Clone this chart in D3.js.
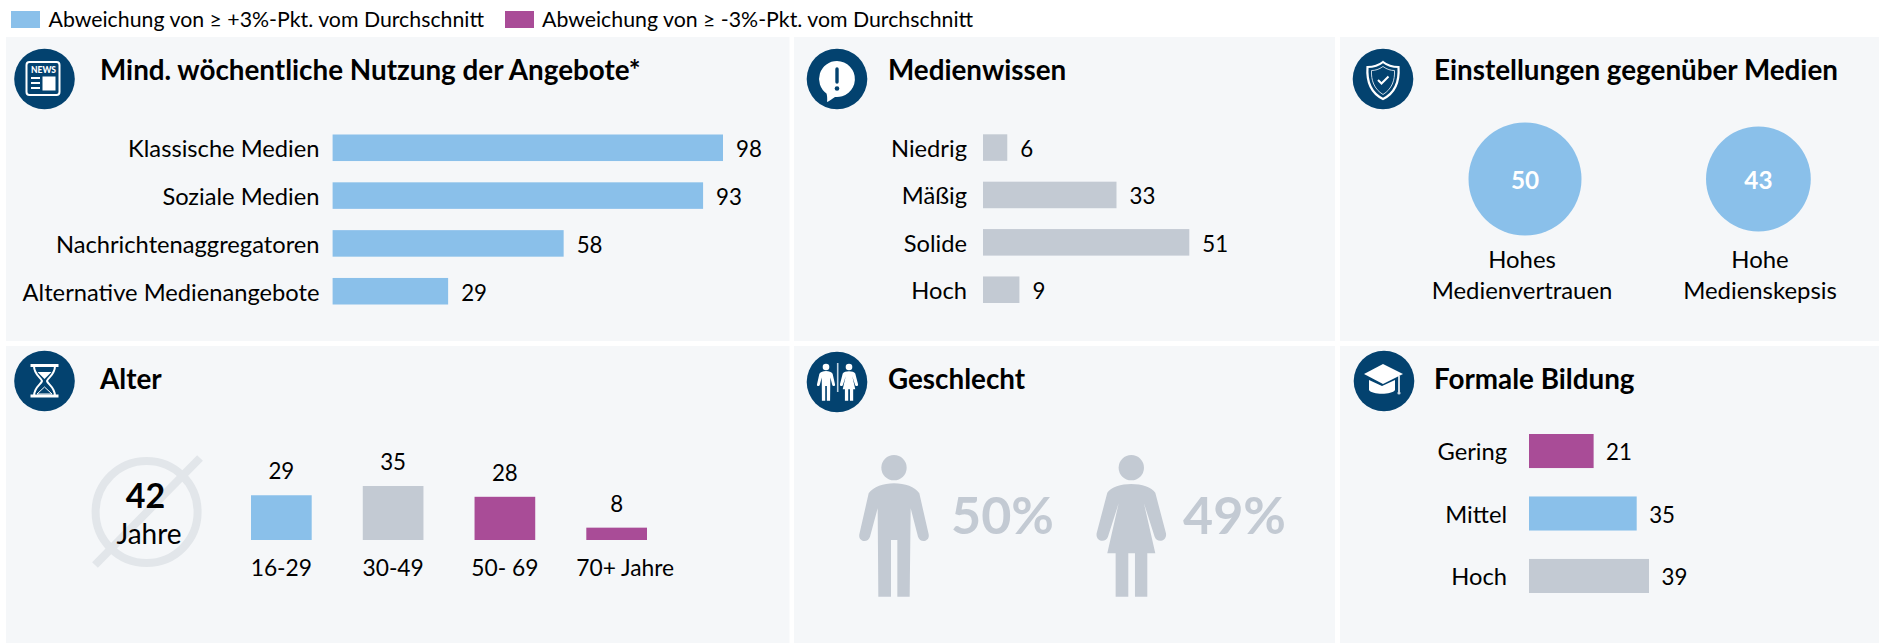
<!DOCTYPE html>
<html><head><meta charset="utf-8">
<script src="https://cdn.jsdelivr.net/npm/d3@7"></script>
<style>html,body{margin:0;padding:0;background:#fff;overflow:hidden}svg{display:block}text{font-family:Lato,"Noto Sans",sans-serif;fill:#000}</style>
</head><body><div id="c"></div>
<script>
const legendLabels=["Abweichung von ≥ +3%-Pkt. vom Durchschnitt","Abweichung von ≥ -3%-Pkt. vom Durchschnitt"];
const titles=["Mind. wöchentliche Nutzung der Angebote*","Medienwissen","Einstellungen gegenüber Medien","Alter","Geschlecht","Formale Bildung"];
const useCats=["Klassische Medien","Soziale Medien","Nachrichtenaggregatoren","Alternative Medienangebote"];
const useVals=[98,93,58,29];
const useKinds=["up","up","up","up"];
const knowCats=["Niedrig","Mäßig","Solide","Hoch"];
const knowVals=[6,33,51,9];
const knowKinds=["none","none","none","none"];
const attCats=[["Hohes","Medienvertrauen"],["Hohe","Medienskepsis"]];
const attVals=[50,43];
const ageCats=["16-29","30-49","50- 69","70+ Jahre"];
const ageVals=[29,35,28,8];
const ageKinds=["up","none","down","down"];
const ageMean=42, ageMeanUnit="Jahre";
const genderVals=["50%","49%"];
const eduCats=["Gering","Mittel","Hoch"];
const eduVals=[21,35,39];
const eduKinds=["down","up","none"];

const COL={up:"#8AC0EA",down:"#A94C97",none:"#C3CAD3"},NAVY="#03426F",PANEL="#F5F7F9";
const W=1879,H=643;
const svg=d3.select("#c").append("svg").attr("width",W).attr("height",H);
svg.append("rect").attr("width",W).attr("height",H).attr("fill","#fff");

// panels
const panelX=[[6,789.5],[794,1335],[1340,1879]],panelY=[[37,341],[346,643]];
panelY.forEach(py=>panelX.forEach(px=>svg.append("rect").attr("x",px[0]).attr("y",py[0])
  .attr("width",px[1]-px[0]).attr("height",py[1]-py[0]).attr("fill",PANEL)));

// legend
[[11,48.5,"up"],[505,542,"down"]].forEach((l,i)=>{
  svg.append("rect").attr("x",l[0]).attr("y",11).attr("width",29).attr("height",17).attr("fill",COL[l[2]]);
  svg.append("text").attr("x",l[1]).attr("y",27).attr("font-size",21.3).text(legendLabels[i]);
});

// titles
const TITLE=27.8;
[[100,79.5],[888,79.5],[1434,79.5],[100,388.5],[888,388.5],[1434,388.5]].forEach((p,i)=>
  svg.append("text").attr("x",p[0]).attr("y",p[1]).attr("font-size",TITLE).attr("font-weight",700).text(titles[i]));

const FS=22.3, FL=23.7;
function hbars(cats,vals,kinds,o){
  const x=d3.scaleLinear().domain([0,o.maxV]).range([o.x0,o.x1]);
  const y=d3.scaleBand().domain(cats).range(o.yr).paddingInner(o.pad).paddingOuter(0);
  const g=svg.append("g");
  g.selectAll("rect").data(cats).join("rect")
    .attr("x",x(0)).attr("y",d=>y(d)).attr("height",y.bandwidth())
    .attr("width",(d,i)=>x(vals[i])-x(0)).attr("fill",(d,i)=>COL[kinds[i]]);
  g.selectAll("text.v").data(cats).join("text").attr("class","v")
    .attr("x",(d,i)=>x(vals[i])+o.gap).attr("y",d=>y(d)+y.bandwidth()/2+o.dy)
    .attr("font-size",FS).text((d,i)=>vals[i]);
  const ax=svg.append("g").attr("transform",`translate(${o.lx},0)`)
    .call(d3.axisLeft(y).tickSize(0).tickPadding(0));
  ax.select(".domain").remove();
  ax.selectAll("text").attr("font-size",FL).attr("dy",null).attr("y",o.dy)
    .style("fill","#000");
  ax.attr("font-family",null).attr("font-size",null);
}
hbars(useCats,useVals,useKinds,{maxV:98,x0:332.6,x1:723,yr:[134.5,304.5],pad:0.445,gap:13,dy:9.3,lx:319.5});
hbars(knowCats,knowVals,knowKinds,{maxV:51,x0:983,x1:1189.3,yr:[134.3,303],pad:0.44,gap:13,dy:9.3,lx:967});
hbars(eduCats,eduVals,eduKinds,{maxV:39,x0:1529,x1:1649,yr:[434,593],pad:0.455,gap:12.5,dy:9.3,lx:1507});

// attitudes: bubbles
const r=d3.scaleSqrt().domain([0,50]).range([0,56.5]);
const bx=d3.scaleOrdinal().domain(attVals).range([1525,1758.4]);
const lx=d3.scaleOrdinal().domain(attVals).range([1522,1760]);
attVals.forEach((v,i)=>{
  svg.append("circle").attr("cx",bx(v)).attr("cy",179).attr("r",r(v)).attr("fill",COL.up);
  svg.append("text").attr("x",bx(v)).attr("y",189).attr("text-anchor","middle").attr("font-size",FS+2)
    .attr("font-weight",700).style("fill","#fff").text(v);
  attCats[i].forEach((t,j)=>svg.append("text").attr("x",lx(v)).attr("y",268+j*31)
    .attr("text-anchor","middle").attr("font-size",FL+0.2).text(t));
});

// age
const ax0=d3.scaleBand().domain(ageCats).range([251,647]).paddingInner(0.457).paddingOuter(0);
const ay=d3.scaleLinear().domain([0,35]).range([540,486]);
ageCats.forEach((c,i)=>{
  svg.append("rect").attr("x",ax0(c)).attr("y",ay(ageVals[i])).attr("width",ax0.bandwidth())
    .attr("height",ay(0)-ay(ageVals[i])).attr("fill",COL[ageKinds[i]]);
  svg.append("text").attr("x",ax0(c)+ax0.bandwidth()/2).attr("y",ay(ageVals[i])-16)
    .attr("text-anchor","middle").attr("font-size",FS).text(ageVals[i]);
});
const agx=svg.append("g").attr("transform","translate(0,576)").call(d3.axisBottom(ax0).tickSize(0).tickPadding(0));
agx.select(".domain").remove();
agx.attr("font-family",null).attr("font-size",null);
agx.selectAll("text").attr("font-size",22.8).attr("dy",null).attr("y",0).style("fill","#000")
  .attr("dx",(d,i)=>i===3?8.5:0);

// mean
const MEAN="#E2E6EA";
svg.append("circle").attr("cx",146.6).attr("cy",512).attr("r",51).attr("fill","none").attr("stroke",MEAN).attr("stroke-width",8);
svg.append("line").attr("x1",95).attr("y1",565).attr("x2",200).attr("y2",458).attr("stroke",MEAN).attr("stroke-width",8);
svg.append("text").attr("x",145.5).attr("y",507.5).attr("text-anchor","middle").attr("font-size",34).attr("font-weight",700).text(ageMean);
svg.append("text").attr("x",149).attr("y",544).attr("text-anchor","middle").attr("font-size",28).text(ageMeanUnit);

// pictograms (drawn in a 3x local space centred on the head axis)
const MAN="M0 47C33 47 63 57 76 77L104 200C108 222 78 227 72 207L50 122L47 387L10 387L10 217L-9 217L-9 387L-47 387L-49 122L-72 207C-78 227-108 222-104 200L-76 77C-62 57-32 47 0 47Z";
const WOMAN="M0 49C31 49 61 59 72 75L104 197C108 222 76 227 70 207L38 107L72 257L48 257L48 387L11 387L11 257L-9 257L-9 387L-47 387L-47 257L-72 257L-38 107L-70 207C-76 227-108 222-104 197L-72 75C-61 59-31 49 0 49Z";
function person(parent,cx,headY,k,path,fill){
  const g=parent.append("g").attr("transform",`translate(${cx},${headY}) scale(${k})`).attr("fill",fill);
  g.append("circle").attr("r",38);
  g.append("path").attr("d",path);
}
person(svg,894,467.7,1/3,MAN,COL.none);
person(svg,1131.3,467.7,1/3,WOMAN,COL.none);
[[951,genderVals[0]],[1183,genderVals[1]]].forEach(p=>svg.append("text").attr("x",p[0]).attr("y",534.3)
  .attr("font-size",52).attr("font-weight",700).style("fill",COL.none).text(p[1]));

// icons
function icon(cx,cy){
  svg.append("circle").attr("cx",cx).attr("cy",cy).attr("r",30.3).attr("fill",NAVY);
  return svg.append("g").attr("transform",`translate(${cx},${cy})`);
}
// news
let g=icon(44.5,79);
g.append("rect").attr("x",-18).attr("y",-17).attr("width",33).attr("height",33).attr("rx",3).attr("fill","none").attr("stroke","#fff").attr("stroke-width",2);
g.append("text").attr("x",-13.5).attr("y",-6).attr("font-size",8.5).attr("font-weight",900).style("fill","#fff").text("NEWS");
[-1,4,9].forEach(y=>g.append("line").attr("x1",-13.5).attr("x2",-4.5).attr("y1",y).attr("y2",y).attr("stroke","#fff").attr("stroke-width",2));
g.append("rect").attr("x",-2).attr("y",-2.5).attr("width",13).attr("height",14).attr("fill","#fff");
// exclamation
g=icon(837,79);
g.append("path").attr("d","M0 -18A18 18 0 1 1 -2 17.9C-5 20 -8 22 -10 23C-9.5 20 -10 16 -10.5 14.6A18 18 0 0 1 0 -18Z").attr("fill","#fff");
g.append("line").attr("x1",0).attr("x2",0).attr("y1",-10).attr("y2",3).attr("stroke",NAVY).attr("stroke-width",3.4).attr("stroke-linecap","round");
g.append("circle").attr("cy",9.5).attr("r",2.3).attr("fill",NAVY);
// shield
g=icon(1383,79);
g.append("path").attr("d","M0 -17C5 -13 11 -12 15.5 -12C16.5 2 12 14 0 20C-12 14 -16.5 2 -15.5 -12C-11 -12 -5 -13 0 -17Z").attr("fill","none").attr("stroke","#fff").attr("stroke-width",2.2);
g.append("path").attr("d","M0 -12.5C4 -9.5 8 -8.5 11.5 -8.5C12 1 9 10 0 15.5C-9 10 -12 1 -11.5 -8.5C-8 -8.5 -4 -9.5 0 -12.5Z").attr("fill","none").attr("stroke","#C9D8E4").attr("stroke-width",1);
g.append("path").attr("d","M-5 1L-1.5 4.5L5.5 -2.5").attr("fill","none").attr("stroke","#fff").attr("stroke-width",2);
// hourglass
g=icon(44.5,381);
g.append("line").attr("x1",-14).attr("x2",14).attr("y1",-15.5).attr("y2",-15.5).attr("stroke","#fff").attr("stroke-width",3);
g.append("line").attr("x1",-14).attr("x2",14).attr("y1",15).attr("y2",15).attr("stroke","#fff").attr("stroke-width",3);
g.append("path").attr("d","M-10.5 -15C-10.5 -6 -3 -3 -2.5 0C-3 3 -10.5 6 -10.5 15M10.5 -15C10.5 -6 3 -3 2.5 0C3 3 10.5 6 10.5 15").attr("fill","none").attr("stroke","#fff").attr("stroke-width",2);
g.append("path").attr("d","M-7 -9L7 -9L0 -2Z").attr("fill","#fff");
g.append("path").attr("d","M-7.5 13L0 6L7.5 13Z").attr("fill","none").attr("stroke","#fff").attr("stroke-width",1);
// restroom
g=icon(837,382);
g.append("line").attr("x1",0.7).attr("x2",0.7).attr("y1",-19).attr("y2",10).attr("stroke","#BFD3E2").attr("stroke-width",1.6);
person(g,-11,-15,0.087,MAN,"#fff");
person(g,12,-15,0.087,WOMAN,"#fff");
// graduation cap
g=icon(1384,381);
g.append("path").attr("d","M-15 -1L-15 9C-12 14 8 14 11 9L11 -1L-2 5Z").attr("fill","#fff");
g.append("path").attr("d","M-1 -17L19 -7L-1 3L-20 -7Z").attr("fill","#fff");
g.append("line").attr("x1",15).attr("x2",15).attr("y1",-5).attr("y2",11).attr("stroke","#fff").attr("stroke-width",1.6);
g.append("circle").attr("cx",15).attr("cy",12).attr("r",1.6).attr("fill","#C9D8E4");
</script></body></html>
